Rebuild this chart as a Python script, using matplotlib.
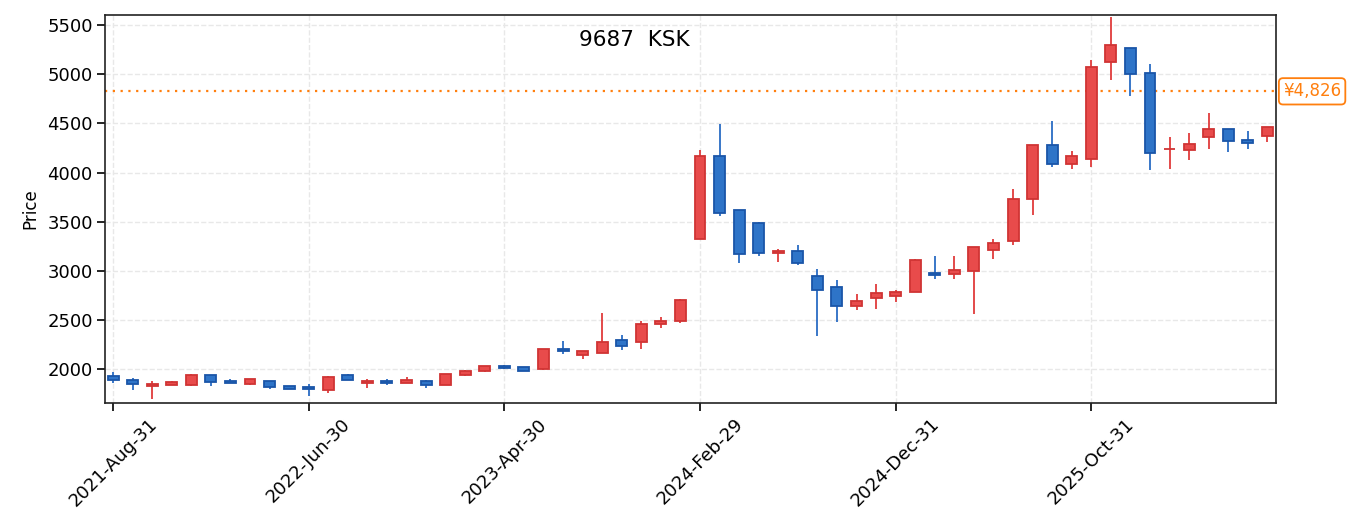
import pandas as pd
import numpy as np
import matplotlib
matplotlib.use("Agg")
import matplotlib.pyplot as plt
from matplotlib.transforms import blended_transform_factory

plt.rcParams['font.family'] = ['DejaVu Sans']

# Monthly OHLC, 9687 KSK
dates = pd.date_range('2021-08-31', periods=60, freq='ME')
opens = [1936, 1895, 1834, 1844, 1844, 1942, 1885, 1854, 1885, 1830,
         1817, 1793, 1946, 1864, 1878, 1864, 1885, 1844, 1946, 1980,
         2037, 2024, 2000, 2207, 2150, 2167, 2299, 2279, 2456, 2493,
         3323, 4173, 3616, 3490, 3187, 3207, 2949, 2837, 2639, 2728,
         2746, 2790, 2981, 2964, 3004, 3208, 3300, 3735, 4276, 4092,
         4137, 5126, 5262, 5010, 4235, 4228, 4361, 4439, 4327, 4371]
highs = [1969, 1912, 1881, 1878, 1956, 1942, 1898, 1905, 1885, 1830,
         1854, 1936, 1949, 1905, 1902, 1919, 1888, 1956, 1990, 2037,
         2044, 2027, 2210, 2292, 2187, 2571, 2350, 2486, 2527, 2710,
         4231, 4496, 3620, 3493, 3221, 3262, 3017, 2905, 2762, 2867,
         2807, 3117, 3147, 3147, 3246, 3324, 3831, 4280, 4528, 4218,
         5146, 5582, 5262, 5106, 4361, 4402, 4606, 4439, 4422, 4466]
lows = [1861, 1786, 1698, 1841, 1830, 1827, 1861, 1841, 1800, 1800,
        1729, 1759, 1892, 1810, 1837, 1861, 1810, 1841, 1932, 1976,
        2000, 1983, 1997, 2156, 2102, 2163, 2194, 2204, 2418, 2469,
        3320, 3561, 3082, 3153, 3092, 3061, 2337, 2480, 2602, 2609,
        2681, 2783, 2919, 2916, 2559, 3120, 3266, 3569, 4052, 4038,
        4058, 4942, 4779, 4024, 4035, 4126, 4242, 4211, 4242, 4313]
closes = [1895, 1854, 1854, 1875, 1942, 1875, 1864, 1902, 1824, 1803,
          1797, 1925, 1895, 1885, 1864, 1888, 1844, 1953, 1986, 2034,
          2014, 1986, 2207, 2187, 2184, 2279, 2238, 2463, 2493, 2707,
          4173, 3585, 3170, 3187, 3207, 3078, 2809, 2639, 2694, 2779,
          2790, 3113, 2960, 3011, 3242, 3287, 3732, 4276, 4092, 4164,
          5072, 5296, 5004, 4194, 4239, 4293, 4439, 4320, 4300, 4466]
last_price = 4826
ticker = '9687  KSK'

o = np.array(opens)
h = np.array(highs)
l = np.array(lows)
c = np.array(closes)
x = np.arange(len(dates))
up = c >= o

fig = plt.figure(figsize=(13.55, 5.32), dpi=100)
ax = fig.add_axes([0.0775, 0.2425, 0.8642, 0.7293])

# wicks
ax.vlines(x[up], l[up], h[up], color='#e03c3c', linewidth=1.3, zorder=2)
ax.vlines(x[~up], l[~up], h[~up], color='#2a6cc4', linewidth=1.3, zorder=2)

# bodies
body_lo = np.minimum(o, c)
body_h = np.abs(c - o)
ax.bar(x[up], body_h[up], bottom=body_lo[up], width=0.56,
       color='#e84b4b', edgecolor='#d03434', linewidth=1.3, zorder=3)
ax.bar(x[~up], body_h[~up], bottom=body_lo[~up], width=0.56,
       color='#2e74c8', edgecolor='#1a55a8', linewidth=1.3, zorder=3)

# last price line + label
ax.axhline(last_price, color='#ff7f0e', linestyle=(0, (1, 2.5)), linewidth=1.6, zorder=1)
trans = blended_transform_factory(ax.transAxes, ax.transData)
ax.text(1.006, last_price, f'¥{last_price:,}', transform=trans, ha='left', va='center',
        color='#ff7f0e', fontsize=12,
        bbox=dict(boxstyle='round,pad=0.25', facecolor='white', edgecolor='#ff7f0e', linewidth=1.3))

ax.text(0.452, 0.935, ticker, transform=ax.transAxes, ha='center', va='center', fontsize=15.5)

ax.set_xlim(-0.41, 59.44)
ax.set_ylim(1657, 5602)
ax.set_yticks(np.arange(2000, 5501, 500))
ticks = x[::10]
ax.set_xticks(ticks)
ax.set_xticklabels([dates[i].strftime('%Y-%b-%d') for i in ticks], rotation=45, fontsize=13)
ax.tick_params(axis='y', labelsize=13)
ax.tick_params(length=5.8, width=1.2, pad=3)
ax.set_ylabel('Price', fontsize=12, labelpad=6)

ax.grid(True, color='#e8e8e8', linestyle='--', linewidth=1.0, zorder=0)
ax.set_axisbelow(True)
for s in ax.spines.values():
    s.set_color('#222222')
    s.set_linewidth(1.2)

fig.savefig('out.png', dpi=100)
